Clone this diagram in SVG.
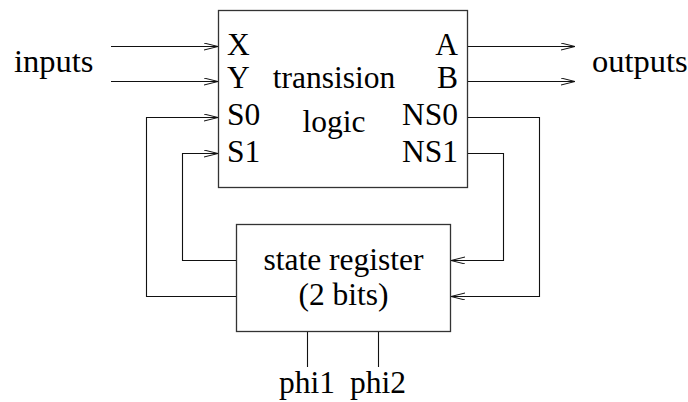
<svg xmlns="http://www.w3.org/2000/svg" width="688" height="402" viewBox="0 0 688 402">
<defs>
<marker id="ah" markerUnits="userSpaceOnUse" markerWidth="16" markerHeight="10" refX="14" refY="3.5" orient="auto">
<path d="M0,0 L14,3.5 L0,7" fill="none" stroke="#111" stroke-width="1"/>
</marker>
<style>
.box{fill:#fff;stroke:#333;stroke-width:1.3}
.w{fill:none;stroke:#111;stroke-width:1.1}
.a{marker-end:url(#ah)}
.m{text-anchor:middle}
.e{text-anchor:end}
</style>
</defs>
<rect width="688" height="402" fill="#fff"/>
<g font-family="'Liberation Serif', serif" font-size="31.5" fill="#000">
<g id="logic">
<rect class="box" x="218.5" y="10.5" width="249" height="177"/>
<text x="227" y="55">X</text>
<text x="227" y="88">Y</text>
<text x="227" y="125">S0</text>
<text x="227" y="162">S1</text>
<text class="e" x="458" y="55">A</text>
<text class="e" x="458" y="88">B</text>
<text class="e" x="458" y="125">NS0</text>
<text class="e" x="458" y="162">NS1</text>
<text class="m" x="334" y="88">transision</text>
<text class="m" x="334" y="132">logic</text>
</g>
<g id="register">
<rect class="box" x="236.5" y="224.5" width="214" height="107"/>
<text class="m" x="343.5" y="270">state register</text>
<text class="m" x="343.5" y="305">(2 bits)</text>
</g>
<g id="inputs-label"><text x="14" y="72" font-size="32.5">inputs</text></g>
<g id="outputs-label"><text x="592" y="72" font-size="32.5">outputs</text></g>
<g id="phi1"><text class="m" x="307" y="393">phi1</text></g>
<g id="phi2"><text class="m" x="378" y="393">phi2</text></g>
</g>
<g id="connectors">
<line class="w a" x1="111" y1="46.5" x2="218" y2="46.5"/>
<line class="w a" x1="111" y1="81.5" x2="218" y2="81.5"/>
<line class="w a" x1="468" y1="46.5" x2="575" y2="46.5"/>
<line class="w a" x1="468" y1="81.5" x2="575" y2="81.5"/>
<polyline class="w a" points="236,296.5 146.5,296.5 146.5,117.5 218,117.5"/>
<polyline class="w a" points="236,260.5 182.5,260.5 182.5,153.5 218,153.5"/>
<polyline class="w a" points="468,117.5 539.5,117.5 539.5,296.5 451,296.5"/>
<polyline class="w a" points="468,153.5 503.5,153.5 503.5,260.5 451,260.5"/>
<line class="w" x1="307.5" y1="332" x2="307.5" y2="367"/>
<line class="w" x1="378.5" y1="332" x2="378.5" y2="367"/>
</g>
</svg>
